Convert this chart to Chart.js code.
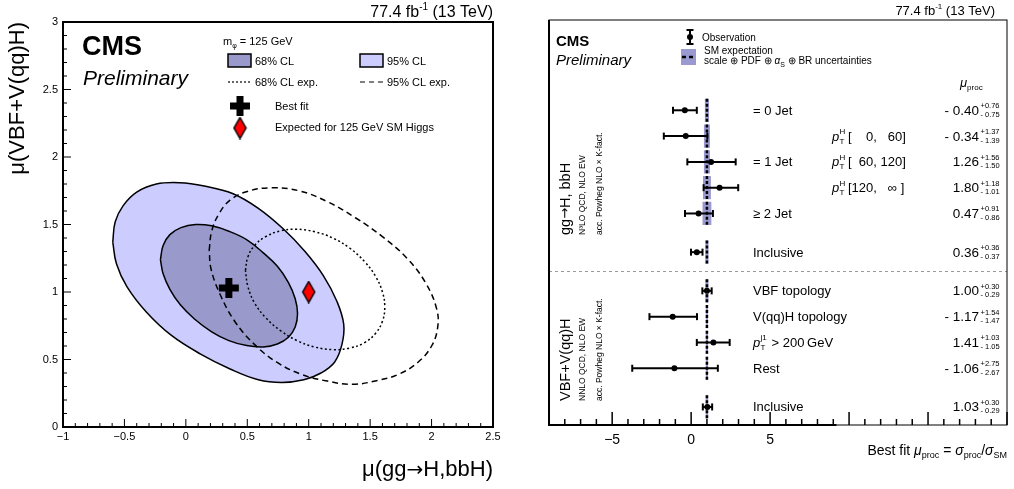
<!DOCTYPE html>
<html>
<head>
<meta charset="utf-8">
<script src="https://cdn.jsdelivr.net/npm/chart.js@4.4.1/dist/chart.umd.min.js"></script>
<style>
    body { margin: 0; background: #fff; width: 1014px; height: 489px; overflow: hidden; position: relative; }
    canvas { position: absolute; top: 0; }
    #left { left: 0; }
    #right { left: 510px; }
</style>
</head>
<body>
<canvas id="left" width="510" height="489"></canvas>
<canvas id="right" width="504" height="489"></canvas>
<script>
const FONT = '"Liberation Sans", Arial, Helvetica, sans-serif';
const SYM = '"DejaVu Sans", sans-serif';
Chart.defaults.font.family = FONT;
Chart.defaults.color = "#000";

// ---------- left panel: 2D scan contours ----------
const obs95X = [-0.595, -0.575, -0.51, -0.40, -0.24, -0.05, 0.15, 0.38, 0.59, 0.79, 0.97, 1.12, 1.23, 1.285, 1.27, 1.21, 1.10, 0.96, 0.78, 0.59, 0.36, 0.12, -0.12, -0.32, -0.48, -0.565];
const obs95Y = [1.37, 1.52, 1.64, 1.74, 1.80, 1.81, 1.785, 1.73, 1.62, 1.47, 1.30, 1.12, 0.93, 0.76, 0.61, 0.48, 0.40, 0.35, 0.33, 0.35, 0.43, 0.54, 0.68, 0.85, 1.04, 1.21];
const obs68X = [-0.207, -0.185, -0.13, -0.04, 0.08, 0.21, 0.35, 0.50, 0.63, 0.745, 0.835, 0.89, 0.909, 0.89, 0.835, 0.745, 0.63, 0.495, 0.35, 0.21, 0.07, -0.045, -0.13, -0.185];
const obs68Y = [1.24, 1.345, 1.425, 1.477, 1.50, 1.49, 1.45, 1.385, 1.29, 1.19, 1.07, 0.95, 0.84, 0.74, 0.665, 0.615, 0.593, 0.603, 0.64, 0.705, 0.80, 0.905, 1.02, 1.135];
const exp68X = [0.485, 0.505, 0.56, 0.65, 0.77, 0.90, 1.05, 1.20, 1.335, 1.455, 1.545, 1.60, 1.619, 1.60, 1.545, 1.455, 1.335, 1.20, 1.05, 0.905, 0.77, 0.65, 0.56, 0.505];
const exp68Y = [1.16, 1.26, 1.345, 1.41, 1.453, 1.465, 1.446, 1.398, 1.324, 1.225, 1.115, 1.00, 0.889, 0.783, 0.695, 0.625, 0.585, 0.573, 0.592, 0.64, 0.714, 0.81, 0.918, 1.04];
const exp95X = [0.19, 0.21, 0.27, 0.36, 0.50, 0.70, 0.92, 1.15, 1.38, 1.60, 1.80, 1.95, 2.04, 2.05, 2.00, 1.89, 1.73, 1.56, 1.36, 1.15, 0.94, 0.74, 0.56, 0.40, 0.28, 0.205];
const exp95Y = [1.31, 1.45, 1.58, 1.68, 1.745, 1.772, 1.75, 1.67, 1.55, 1.41, 1.25, 1.07, 0.88, 0.74, 0.60, 0.48, 0.39, 0.345, 0.316, 0.34, 0.39, 0.48, 0.61, 0.78, 0.98, 1.17];
const bestFit = { x: 0.35, y: 1.03 };
const smPoint = { x: 1, y: 1 };

// ---------- right panel: per-bin signal strengths ----------
const binLabels = ["= 0 Jet", "", "= 1 Jet", "", "\u2265 2 Jet", "Inclusive", "VBF topology", "V(qq)H topology", "p_T^{j1} > 200\u2009GeV", "Rest", "Inclusive"];
const ptBins = ["", "[    0,   60]", "[  60, 120]", "[120,   \u221e ]", "", "", "", "", "", "", ""];
const muFit = [-0.40, -0.34, 1.26, 1.80, 0.47, 0.36, 1.00, -1.17, 1.41, -1.06, 1.03];
const errHi = [0.76, 1.37, 1.56, 1.18, 0.91, 0.36, 0.30, 1.54, 1.03, 2.75, 0.30];
const errLo = [0.75, 1.39, 1.50, 1.01, 0.86, 0.37, 0.29, 1.47, 1.05, 2.67, 0.29];
const smBand = [0.13, 0.19, 0.19, 0.25, 0.28, 0.10, 0.10, 0.07, 0.07, 0.07, 0.08];
const rowPos = [3.5, 4.5, 5.5, 6.5, 7.5, 9, 10.5, 11.5, 12.5, 13.5, 15];
const sepPos = 9.75;
const smValue = 1;
const xTickLabels = [-5, 0, 5];
const groupNames = [["gg", "\u2192", "H, bbH"], ["VBF+V(qq)H"]];
const groupOrders = ["N\u00b3LO QCD, NLO EW", "NNLO QCD, NLO EW"];
const groupAcc = "acc. Powheg NLO \u00d7 K-fact.";

const LIGHT = "#ccccff";
const DARK = "#9999cc";
const BAND = "#9a9ad0";

function toPoints(xs, ys) {
    const pts = xs.map((x, i) => ({ x: x, y: ys[i] }));
    pts.push(pts[0]);
    return pts;
}

function fmtTick(v) {
    return v < 0 ? "\u2212" + Math.abs(v) : String(v);
}

function fmtVal(v) {
    return v < 0 ? "- " + Math.abs(v).toFixed(2) : v.toFixed(2);
}

// draws a list of {t, font, dy} parts one after the other
function rich(ctx, parts, x, y, align) {
    let w = 0;
    parts.forEach(p => { ctx.font = p.font; p.w = ctx.measureText(p.t).width; w += p.w; });
    let cx = align === "right" ? x - w : (align === "center" ? x - w / 2 : x);
    const saved = ctx.textAlign;
    ctx.textAlign = "left";
    parts.forEach(p => { ctx.font = p.font; ctx.fillText(p.t, cx, y + (p.dy || 0)); cx += p.w; });
    ctx.textAlign = saved;
    return w;
}

function f(size, style, fam) {
    return (style ? style + " " : "") + size + "px " + (fam || FONT);
}

// ROOT style ticks pointing into the frame
function drawTicks(chart, cfg) {
    const ctx = chart.ctx, a = chart.chartArea;
    ctx.save();
    ctx.strokeStyle = "#000";
    ctx.lineWidth = cfg.tickWidth;
    ["x", "y"].forEach(axis => {
        const c = cfg[axis];
        if (!c) return;
        const sc = chart.scales[axis];
        const k0 = Math.ceil(sc.min / c.minor - 1e-6), k1 = Math.floor(sc.max / c.minor + 1e-6);
        for (let k = k0; k <= k1; k++) {
            const v = k * c.minor;
            const major = Math.abs(v / c.major - Math.round(v / c.major)) < 1e-6;
            const len = major ? c.majorLen : c.minorLen;
            const p = sc.getPixelForValue(v);
            ctx.beginPath();
            if (axis === "x") { ctx.moveTo(p, a.bottom); ctx.lineTo(p, a.bottom - len); }
            else { ctx.moveTo(a.left, p); ctx.lineTo(a.left + len, p); }
            ctx.stroke();
        }
    });
    ctx.restore();
}

// diamond marker for the SM expectation
const diamond = document.createElement("canvas");
diamond.width = 15;
diamond.height = 23;
(function () {
    const c = diamond.getContext("2d");
    c.beginPath();
    c.moveTo(7.5, 1); c.lineTo(13.5, 11.5); c.lineTo(7.5, 22); c.lineTo(1.5, 11.5); c.closePath();
    c.fillStyle = "#ff0000"; c.fill();
    c.lineWidth = 1.5; c.strokeStyle = "#000"; c.stroke();
})();

const leftDecor = {
    id: "leftDecor",
    afterDatasetsDraw(chart) {
        drawTicks(chart, {
            tickWidth: 1,
            x: { major: 0.5, minor: 0.1, majorLen: 8, minorLen: 4 },
            y: { major: 0.5, minor: 0.1, majorLen: 8, minorLen: 4 }
        });
        const ctx = chart.ctx, a = chart.chartArea;
        ctx.save();
        ctx.strokeStyle = "#000";
        ctx.lineWidth = 2;
        ctx.strokeRect(a.left, a.top, a.right - a.left, a.bottom - a.top);
        ctx.fillStyle = "#000";
        ctx.textBaseline = "alphabetic";

        // header
        rich(ctx, [
            { t: "77.4 fb", font: f(16) },
            { t: "-1", font: f(10), dy: -7 },
            { t: " (13 TeV)", font: f(16) }
        ], a.right, 17, "right");

        ctx.font = f(27, "bold");
        ctx.fillText("CMS", 82, 55);
        ctx.font = f(21, "italic");
        ctx.fillText("Preliminary", 83, 85);

        // axis titles
        rich(ctx, [
            { t: "\u03bc(gg", font: f(22) },
            { t: "\u2192", font: f(20, "", SYM) },
            { t: "H,bbH)", font: f(22) }
        ], a.right, 476, "right");
        ctx.save();
        ctx.translate(18, a.top);
        ctx.rotate(-Math.PI / 2);
        ctx.textBaseline = "middle";
        ctx.textAlign = "right";
        ctx.font = f(22);
        ctx.fillText("\u03bc(VBF+V(qq)H)", 0, 0);
        ctx.restore();

        // legend
        rich(ctx, [
            { t: "m", font: f(11) },
            { t: "\u03c6", font: f(7), dy: 3 },
            { t: " = 125 GeV", font: f(11) }
        ], 223, 45, "left");
        ctx.lineWidth = 1.5;
        ctx.fillStyle = DARK;
        ctx.fillRect(228, 54, 23, 13);
        ctx.strokeRect(228, 54, 23, 13);
        ctx.fillStyle = LIGHT;
        ctx.fillRect(360, 54, 23, 13);
        ctx.strokeRect(360, 54, 23, 13);
        ctx.fillStyle = "#000";
        ctx.font = f(11);
        ctx.fillText("68% CL", 255, 65);
        ctx.fillText("95% CL", 387, 65);
        ctx.fillText("68% CL exp.", 255, 86);
        ctx.fillText("95% CL exp.", 387, 86);
        ctx.lineWidth = 1.2;
        ctx.setLineDash([2, 2]);
        ctx.beginPath(); ctx.moveTo(228, 82); ctx.lineTo(252, 82); ctx.stroke();
        ctx.setLineDash([5, 4]);
        ctx.beginPath(); ctx.moveTo(360, 82); ctx.lineTo(384, 82); ctx.stroke();
        ctx.setLineDash([]);

        // best fit cross and SM diamond
        ctx.lineWidth = 7;
        ctx.beginPath();
        ctx.moveTo(240, 96); ctx.lineTo(240, 116);
        ctx.moveTo(230, 106); ctx.lineTo(250, 106);
        ctx.stroke();
        ctx.drawImage(diamond, 240 - 7.5, 128 - 11.5);
        ctx.font = f(11);
        ctx.fillText("Best fit", 275, 110);
        ctx.fillText("Expected for 125 GeV SM Higgs", 275, 131);
        ctx.restore();
    }
};

new Chart(document.getElementById("left"), {
    type: "line",
    data: {
        datasets: [
            { data: [bestFit], showLine: false, pointStyle: "cross", pointRadius: 10, pointBorderWidth: 7, pointBorderColor: "#000", order: 0 },
            { data: [smPoint], showLine: false, pointStyle: diamond, pointRadius: 10, order: 0 },
            { data: toPoints(exp68X, exp68Y), borderColor: "#000", borderWidth: 1.5, borderDash: [2, 2.5], pointRadius: 0, tension: 0.4, fill: false, order: 1 },
            { data: toPoints(exp95X, exp95Y), borderColor: "#000", borderWidth: 1.5, borderDash: [6, 4], pointRadius: 0, tension: 0.4, fill: false, order: 1 },
            { data: toPoints(obs68X, obs68Y), borderColor: "#000", borderWidth: 1.5, backgroundColor: DARK, pointRadius: 0, tension: 0.4, fill: "shape", order: 2 },
            { data: toPoints(obs95X, obs95Y), borderColor: "#000", borderWidth: 1.5, backgroundColor: LIGHT, pointRadius: 0, tension: 0.4, fill: "shape", order: 3 }
        ]
    },
    options: {
        responsive: false,
        animation: false,
        events: [],
        layout: { padding: { left: 0, top: 22, right: 14, bottom: 0 } },
        plugins: { legend: { display: false }, tooltip: { enabled: false } },
        scales: {
            x: {
                type: "linear", min: -1, max: 2.5,
                grid: { display: false, drawTicks: false },
                border: { display: false },
                ticks: { stepSize: 0.5, padding: 3, maxRotation: 0, font: { size: 11 }, callback: fmtTick },
                afterFit(s) { s.height = 62; }
            },
            y: {
                type: "linear", min: 0, max: 3,
                grid: { display: false, drawTicks: false },
                border: { display: false },
                ticks: { stepSize: 0.5, padding: 5, font: { size: 11 }, callback: fmtTick },
                afterFit(s) { s.width = 63; }
            }
        }
    },
    plugins: [leftDecor]
});

// ---------- right panel ----------
const bandHalf = 0.45;
const rightSets = [];
rowPos.forEach((r, i) => {
    const lo = smValue - smBand[i], hi = smValue + smBand[i];
    rightSets.push({
        data: [{ x: lo, y: r - bandHalf }, { x: hi, y: r - bandHalf }, { x: hi, y: r + bandHalf }, { x: lo, y: r + bandHalf }, { x: lo, y: r - bandHalf }],
        borderColor: "rgba(0,0,0,0)", borderWidth: 1, backgroundColor: BAND, pointRadius: 0, tension: 0, fill: "shape", order: 4
    });
    rightSets.push({
        data: [{ x: smValue, y: r - bandHalf }, { x: smValue, y: r + bandHalf }],
        borderColor: "#000", borderWidth: 2.5, borderDash: [3, 2], pointRadius: 0, fill: false, order: 3
    });
    rightSets.push({
        data: [{ x: muFit[i] - errLo[i], y: r }, { x: muFit[i] + errHi[i], y: r }],
        borderColor: "#000", borderWidth: 2, fill: false,
        pointStyle: "line", pointRotation: 90, pointRadius: 3.5, pointBorderWidth: 2, pointBorderColor: "#000", order: 1
    });
});
rightSets.push({
    data: rowPos.map((r, i) => ({ x: muFit[i], y: r })),
    showLine: false, pointRadius: 3, pointBackgroundColor: "#000", pointBorderColor: "#000", pointBorderWidth: 0, order: 0
});
rightSets.push({
    data: [{ x: -9, y: sepPos }, { x: 20, y: sepPos }],
    borderColor: "#9a9a9a", borderWidth: 1, borderDash: [3, 3], pointRadius: 0, fill: false, order: 5
});

const rightDecor = {
    id: "rightDecor",
    afterDatasetsDraw(chart) {
        drawTicks(chart, {
            tickWidth: 1.5,
            x: { major: 5, minor: 1, majorLen: 13, minorLen: 6 }
        });
        const ctx = chart.ctx, a = chart.chartArea, sx = chart.scales.x, sy = chart.scales.y;
        ctx.save();
        ctx.strokeStyle = "#000";
        ctx.lineWidth = 1;
        ctx.strokeRect(a.left, a.top, a.right - a.left, a.bottom - a.top);
        ctx.lineWidth = 2;
        ctx.beginPath();
        ctx.moveTo(a.left, a.top); ctx.lineTo(a.left, a.bottom);
        ctx.lineTo(sx.getPixelForValue(9.2), a.bottom);
        ctx.stroke();

        ctx.fillStyle = "#000";
        ctx.textAlign = "left";
        ctx.textBaseline = "alphabetic";

        rich(ctx, [
            { t: "77.4 fb", font: f(13) },
            { t: "-1", font: f(8), dy: -6 },
            { t: " (13 TeV)", font: f(13) }
        ], 485, 15, "right");

        ctx.font = f(15, "bold");
        ctx.fillText("CMS", 46, 46);
        ctx.font = f(15, "italic");
        ctx.fillText("Preliminary", 46, 65);

        // legend: observation
        ctx.lineWidth = 2;
        ctx.beginPath();
        ctx.moveTo(180, 30); ctx.lineTo(180, 44);
        ctx.moveTo(176.5, 30); ctx.lineTo(183.5, 30);
        ctx.moveTo(176.5, 44); ctx.lineTo(183.5, 44);
        ctx.stroke();
        ctx.beginPath(); ctx.arc(180, 37, 3, 0, 2 * Math.PI); ctx.fill();
        ctx.font = f(10);
        ctx.fillText("Observation", 192, 41);
        // legend: SM expectation
        ctx.fillStyle = BAND;
        ctx.fillRect(171, 49, 15, 16);
        ctx.fillStyle = "#000";
        ctx.lineWidth = 2.5;
        ctx.setLineDash([4, 3]);
        ctx.beginPath(); ctx.moveTo(172, 57); ctx.lineTo(186, 57); ctx.stroke();
        ctx.setLineDash([]);
        ctx.font = f(10);
        ctx.fillText("SM expectation", 194, 54);
        rich(ctx, [
            { t: "scale \u2295 PDF \u2295 ", font: f(10) },
            { t: "\u03b1", font: f(10, "italic") },
            { t: "S", font: f(7), dy: 2.5 },
            { t: " \u2295 BR uncertainties", font: f(10) }
        ], 194, 64, "left");

        // column header
        rich(ctx, [
            { t: "\u03bc", font: f(13, "italic") },
            { t: "proc", font: f(8), dy: 3 }
        ], 450, 87, "left");

        // rows
        rowPos.forEach((r, i) => {
            const py = sy.getPixelForValue(r);
            const lab = binLabels[i];
            if (lab.startsWith("p_T^{")) {
                const sup = lab.slice(5, lab.indexOf("}"));
                const rest = lab.slice(lab.indexOf("}") + 1);
                ctx.font = f(13, "italic");
                ctx.fillText("p", 243, py + 4.5);
                ctx.font = f(8);
                ctx.fillText(sup, 250.5, py - 2);
                ctx.fillText("T", 250.5, py + 7.5);
                ctx.font = f(13);
                ctx.fillText(rest, 258, py + 4.5);
            } else if (lab) {
                ctx.font = f(13);
                ctx.fillText(lab, 243, py + 4.5);
            }
            if (ptBins[i]) {
                ctx.font = f(13, "italic");
                ctx.fillText("p", 322, py + 4.5);
                ctx.font = f(8);
                ctx.fillText("H", 329.5, py - 2);
                ctx.fillText("T", 329.5, py + 7.5);
                ctx.font = f(13);
                ctx.fillText(ptBins[i], 338, py + 4.5);
            }
            ctx.font = f(13.5);
            ctx.textAlign = "right";
            ctx.fillText(fmtVal(muFit[i]), 469, py + 4.5);
            ctx.textAlign = "left";
            ctx.font = f(7.5);
            ctx.fillText("+" + errHi[i].toFixed(2), 470.5, py - 2);
            ctx.fillText("- " + errLo[i].toFixed(2), 470.5, py + 6.5);
        });

        // group labels, rotated
        const anchors = [235, 401];
        groupNames.forEach((g, i) => {
            ctx.save();
            ctx.translate(56, anchors[i]);
            ctx.rotate(-Math.PI / 2);
            ctx.textBaseline = "middle";
            ctx.textAlign = "left";
            rich(ctx, g.map(t => ({ t: t, font: t === "\u2192" ? f(13, "", SYM) : f(14.5) })), 0, 0, "left");
            ctx.font = f(8.5);
            ctx.fillText(groupOrders[i], 0, 17);
            ctx.fillText(groupAcc, 0, 34);
            ctx.restore();
        });

        // x title
        rich(ctx, [
            { t: "Best fit ", font: f(14) },
            { t: "\u03bc", font: f(14, "italic") },
            { t: "proc", font: f(9), dy: 3 },
            { t: " = ", font: f(14) },
            { t: "\u03c3", font: f(14, "italic") },
            { t: "proc", font: f(9), dy: 3 },
            { t: "/", font: f(14) },
            { t: "\u03c3", font: f(14, "italic") },
            { t: "SM", font: f(9), dy: 3 }
        ], a.right, 455, "right");
        ctx.restore();
    }
};

new Chart(document.getElementById("right"), {
    type: "line",
    data: { datasets: rightSets },
    options: {
        responsive: false,
        animation: false,
        events: [],
        layout: { padding: { left: 39, top: 20, right: 3, bottom: 0 } },
        plugins: { legend: { display: false }, tooltip: { enabled: false } },
        scales: {
            x: {
                type: "linear", min: -9, max: 20,
                grid: { display: false, drawTicks: false },
                border: { display: false },
                ticks: {
                    stepSize: 5, padding: 7, maxRotation: 0, autoSkip: false, font: { size: 14 },
                    callback: v => xTickLabels.includes(v) ? fmtTick(v) : ""
                },
                afterFit(s) { s.height = 64; }
            },
            y: { type: "linear", min: 0, max: 15.7, reverse: true, display: false }
        }
    },
    plugins: [rightDecor]
});
</script>
</body>
</html>
